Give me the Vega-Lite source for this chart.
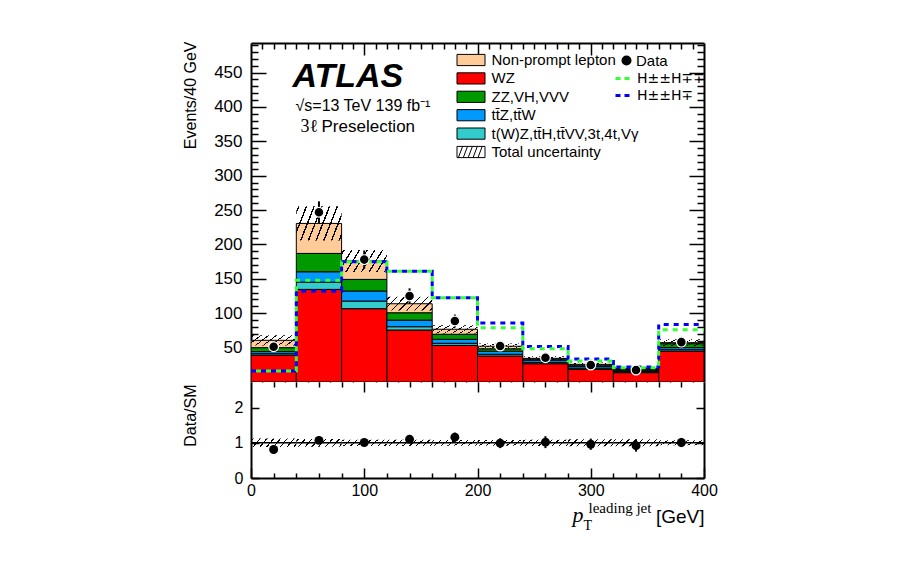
{
  "$schema": "https://vega.github.io/schema/vega-lite/v6.json",
  "background": "white",
  "padding": {"left": 181, "top": 36, "right": 5, "bottom": 5},
  "autosize": {"type": "pad"},
  "spacing": 0,
  "bounds": "flush",
  "datasets": {
    "stack": [
      {"process": "WZ", "rank": 1, "lo": 0, "hi": 40, "events": 39.2},
      {"process": "WZ", "rank": 1, "lo": 40, "hi": 80, "events": 134.7},
      {"process": "WZ", "rank": 1, "lo": 80, "hi": 120, "events": 106.6},
      {"process": "WZ", "rank": 1, "lo": 120, "hi": 160, "events": 75.6},
      {"process": "WZ", "rank": 1, "lo": 160, "hi": 200, "events": 53.3},
      {"process": "WZ", "rank": 1, "lo": 200, "hi": 240, "events": 37.8},
      {"process": "WZ", "rank": 1, "lo": 240, "hi": 280, "events": 26.6},
      {"process": "WZ", "rank": 1, "lo": 280, "hi": 320, "events": 18.4},
      {"process": "WZ", "rank": 1, "lo": 320, "hi": 360, "events": 13.6},
      {"process": "WZ", "rank": 1, "lo": 360, "hi": 400, "events": 45.0},
      {"process": "t(W)Z,tt̄H,tt̄VV,3t,4t,Vγ", "rank": 2, "lo": 0, "hi": 40, "events": 2.0},
      {"process": "t(W)Z,tt̄H,tt̄VV,3t,4t,Vγ", "rank": 2, "lo": 40, "hi": 80, "events": 10.6},
      {"process": "t(W)Z,tt̄H,tt̄VV,3t,4t,Vγ", "rank": 2, "lo": 80, "hi": 120, "events": 11.1},
      {"process": "t(W)Z,tt̄H,tt̄VV,3t,4t,Vγ", "rank": 2, "lo": 120, "hi": 160, "events": 4.8},
      {"process": "t(W)Z,tt̄H,tt̄VV,3t,4t,Vγ", "rank": 2, "lo": 160, "hi": 200, "events": 3.0},
      {"process": "t(W)Z,tt̄H,tt̄VV,3t,4t,Vγ", "rank": 2, "lo": 200, "hi": 240, "events": 2.5},
      {"process": "t(W)Z,tt̄H,tt̄VV,3t,4t,Vγ", "rank": 2, "lo": 240, "hi": 280, "events": 2.0},
      {"process": "t(W)Z,tt̄H,tt̄VV,3t,4t,Vγ", "rank": 2, "lo": 280, "hi": 320, "events": 1.8},
      {"process": "t(W)Z,tt̄H,tt̄VV,3t,4t,Vγ", "rank": 2, "lo": 320, "hi": 360, "events": 1.5},
      {"process": "t(W)Z,tt̄H,tt̄VV,3t,4t,Vγ", "rank": 2, "lo": 360, "hi": 400, "events": 2.0},
      {"process": "tt̄Z,tt̄W", "rank": 3, "lo": 0, "hi": 40, "events": 3.0},
      {"process": "tt̄Z,tt̄W", "rank": 3, "lo": 40, "hi": 80, "events": 15.0},
      {"process": "tt̄Z,tt̄W", "rank": 3, "lo": 80, "hi": 120, "events": 14.6},
      {"process": "tt̄Z,tt̄W", "rank": 3, "lo": 120, "hi": 160, "events": 9.6},
      {"process": "tt̄Z,tt̄W", "rank": 3, "lo": 160, "hi": 200, "events": 5.8},
      {"process": "tt̄Z,tt̄W", "rank": 3, "lo": 200, "hi": 240, "events": 4.5},
      {"process": "tt̄Z,tt̄W", "rank": 3, "lo": 240, "hi": 280, "events": 3.0},
      {"process": "tt̄Z,tt̄W", "rank": 3, "lo": 280, "hi": 320, "events": 2.5},
      {"process": "tt̄Z,tt̄W", "rank": 3, "lo": 320, "hi": 360, "events": 2.0},
      {"process": "tt̄Z,tt̄W", "rank": 3, "lo": 360, "hi": 400, "events": 3.0},
      {"process": "ZZ,VH,VVV", "rank": 4, "lo": 0, "hi": 40, "events": 5.7},
      {"process": "ZZ,VH,VVV", "rank": 4, "lo": 40, "hi": 80, "events": 26.7},
      {"process": "ZZ,VH,VVV", "rank": 4, "lo": 80, "hi": 120, "events": 16.9},
      {"process": "ZZ,VH,VVV", "rank": 4, "lo": 120, "hi": 160, "events": 10.7},
      {"process": "ZZ,VH,VVV", "rank": 4, "lo": 160, "hi": 200, "events": 7.3},
      {"process": "ZZ,VH,VVV", "rank": 4, "lo": 200, "hi": 240, "events": 3.5},
      {"process": "ZZ,VH,VVV", "rank": 4, "lo": 240, "hi": 280, "events": 1.6},
      {"process": "ZZ,VH,VVV", "rank": 4, "lo": 280, "hi": 320, "events": 1.8},
      {"process": "ZZ,VH,VVV", "rank": 4, "lo": 320, "hi": 360, "events": 1.3},
      {"process": "ZZ,VH,VVV", "rank": 4, "lo": 360, "hi": 400, "events": 5.7},
      {"process": "Non-prompt lepton", "rank": 5, "lo": 0, "hi": 40, "events": 10.7},
      {"process": "Non-prompt lepton", "rank": 5, "lo": 40, "hi": 80, "events": 43.6},
      {"process": "Non-prompt lepton", "rank": 5, "lo": 80, "hi": 120, "events": 26.8},
      {"process": "Non-prompt lepton", "rank": 5, "lo": 120, "hi": 160, "events": 13.1},
      {"process": "Non-prompt lepton", "rank": 5, "lo": 160, "hi": 200, "events": 7.3},
      {"process": "Non-prompt lepton", "rank": 5, "lo": 200, "hi": 240, "events": 3.7},
      {"process": "Non-prompt lepton", "rank": 5, "lo": 240, "hi": 280, "events": 1.2},
      {"process": "Non-prompt lepton", "rank": 5, "lo": 280, "hi": 320, "events": 1.2},
      {"process": "Non-prompt lepton", "rank": 5, "lo": 320, "hi": 360, "events": 1.0},
      {"process": "Non-prompt lepton", "rank": 5, "lo": 360, "hi": 400, "events": 1.5}
    ],
    "bins": [
      {"lo": 0, "hi": 40, "mid": 20, "unc_lo": 53.1, "unc_hi": 68.1, "data": 51.3, "data_lo": 44.1, "data_hi": 58.5, "ratio": 0.81, "ratio_lo": 0.69, "ratio_hi": 0.93, "band_lo": 0.88, "band_hi": 1.12},
      {"lo": 40, "hi": 80, "mid": 60, "unc_lo": 205.6, "unc_hi": 255.6, "data": 247, "data_lo": 231.3, "data_hi": 262.7, "ratio": 1.07, "ratio_lo": 0.99, "ratio_hi": 1.15, "band_lo": 0.89, "band_hi": 1.11},
      {"lo": 80, "hi": 120, "mid": 100, "unc_lo": 160, "unc_hi": 192, "data": 178, "data_lo": 164.7, "data_hi": 191.3, "ratio": 1.01, "ratio_lo": 0.93, "ratio_hi": 1.09, "band_lo": 0.91, "band_hi": 1.09},
      {"lo": 120, "hi": 160, "mid": 140, "unc_lo": 103.8, "unc_hi": 123.8, "data": 125, "data_lo": 113.8, "data_hi": 136.2, "ratio": 1.10, "ratio_lo": 1.0, "ratio_hi": 1.2, "band_lo": 0.91, "band_hi": 1.09},
      {"lo": 160, "hi": 200, "mid": 180, "unc_lo": 70.7, "unc_hi": 82.7, "data": 88.7, "data_lo": 79.3, "data_hi": 98.1, "ratio": 1.16, "ratio_lo": 1.03, "ratio_hi": 1.29, "band_lo": 0.92, "band_hi": 1.08},
      {"lo": 200, "hi": 240, "mid": 220, "unc_lo": 48, "unc_hi": 56, "data": 52.3, "data_lo": 45.1, "data_hi": 59.5, "ratio": 0.99, "ratio_lo": 0.85, "ratio_hi": 1.13, "band_lo": 0.92, "band_hi": 1.08},
      {"lo": 240, "hi": 280, "mid": 260, "unc_lo": 31.4, "unc_hi": 37.4, "data": 35.3, "data_lo": 29.4, "data_hi": 41.2, "ratio": 1.02, "ratio_lo": 0.85, "ratio_hi": 1.19, "band_lo": 0.91, "band_hi": 1.09},
      {"lo": 280, "hi": 320, "mid": 300, "unc_lo": 23.2, "unc_hi": 28.2, "data": 24.7, "data_lo": 19.7, "data_hi": 29.7, "ratio": 0.96, "ratio_lo": 0.8, "ratio_hi": 1.12, "band_lo": 0.9, "band_hi": 1.1},
      {"lo": 320, "hi": 360, "mid": 340, "unc_lo": 17.4, "unc_hi": 21.4, "data": 17.4, "data_lo": 13.2, "data_hi": 21.6, "ratio": 0.92, "ratio_lo": 0.75, "ratio_hi": 1.09, "band_lo": 0.9, "band_hi": 1.1},
      {"lo": 360, "hi": 400, "mid": 380, "unc_lo": 52.2, "unc_hi": 62.2, "data": 58, "data_lo": 50.4, "data_hi": 65.6, "ratio": 1.01, "ratio_lo": 0.88, "ratio_hi": 1.14, "band_lo": 0.93, "band_hi": 1.07}
    ],
    "signal": [
      {"edge": 0, "cc": 16, "c": 16},
      {"edge": 40, "cc": 148, "c": 132},
      {"edge": 80, "cc": 175, "c": 175},
      {"edge": 120, "cc": 161, "c": 161},
      {"edge": 160, "cc": 122.6, "c": 122.6},
      {"edge": 200, "cc": 79, "c": 85.8},
      {"edge": 240, "cc": 48.5, "c": 51.8},
      {"edge": 280, "cc": 30.5, "c": 33.4},
      {"edge": 320, "cc": 20.8, "c": 21.8},
      {"edge": 360, "cc": 76, "c": 83.8},
      {"edge": 400, "cc": 76, "c": 83.8}
    ]
  },
  "vconcat": [
    {
      "width": 453,
      "height": 339,
      "resolve": {"axis": {"x": "independent", "y": "independent"}},
      "layer": [
        {
          "data": {"name": "stack"},
          "transform": [
            {"stack": "events", "groupby": ["lo"], "sort": [{"field": "rank", "order": "ascending"}], "as": ["y0", "y1"]}
          ],
          "mark": {"type": "rect", "stroke": "black", "strokeWidth": 1, "clip": true},
          "encoding": {
            "x": {"field": "lo", "type": "quantitative",
              "scale": {"domain": [0, 400], "nice": false, "zero": false},
              "axis": {"orient": "bottom", "values": [10,20,30,40,50,60,70,80,90,100,110,120,130,140,150,160,170,180,190,200,210,220,230,240,250,260,270,280,290,300,310,320,330,340,350,360,370,380,390],
                "labels": false, "domain": false, "title": null,
                "tickSize": {"condition": {"test": "datum.value % 100 === 0", "value": -12}, "value": -6}}},
            "x2": {"field": "hi"},
            "y": {"field": "y0", "type": "quantitative",
              "scale": {"domain": [0, 493], "nice": false, "zero": false},
              "axis": {"orient": "left", "values": [10,20,30,40,50,60,70,80,90,100,110,120,130,140,150,160,170,180,190,200,210,220,230,240,250,260,270,280,290,300,310,320,330,340,350,360,370,380,390,400,410,420,430,440,450,460,470,480,490],
                "tickSize": {"condition": {"test": "datum.value % 50 === 0", "value": -15}, "value": -7},
                "labelExpr": "datum.value % 50 === 0 ? datum.label : ''",
                "labelFontSize": 17, "labelPadding": 24,
                "title": "Events/40 GeV", "titleFontSize": 16, "titleX": -56, "titleY": -2,
                "titleAlign": "right", "titleAngle": -90, "titleBaseline": "alphabetic"}},
            "y2": {"field": "y1"},
            "fill": {"field": "process", "type": "nominal",
              "scale": {"domain": ["Non-prompt lepton", "WZ", "ZZ,VH,VVV", "tt̄Z,tt̄W", "t(W)Z,tt̄H,tt̄VV,3t,4t,Vγ", "Total uncertainty"],
                        "range": ["#ffcc99", "#ff0000", "#009900", "#0099ff", "#33cccc", "#ffffff"]},
              "legend": {"orient": "none", "legendX": 212.5, "legendY": 9.5, "title": null, "padding": 0,
                "symbolType": "M-2,-0.8H2V0.8H-2Z", "symbolSize": 196, "symbolStrokeColor": "black", "symbolStrokeWidth": 1, "symbolOpacity": 1,
                "labelFontSize": 15, "labelOffset": 13, "rowPadding": 1.4, "labelLimit": 400, "labelColor": "black",
                "encode": {"symbols": {"update": {"shape": {"signal": "datum.value === 'Total uncertainty' ? 'M-2,-0.8H2V0.8H-2Z M-1.8,0.8L-1.2,-0.8 M-1.1,0.8L-0.5,-0.8 M-0.4,0.8L0.2,-0.8 M0.3,0.8L0.9,-0.8 M1,0.8L1.6,-0.8' : 'M-2,-0.8H2V0.8H-2Z'"}}}}}}
          }
        },
        {
          "data": {"name": "bins"},
          "mark": {"type": "rect",
            "fill": {"gradient": "linear", "x1": 0, "y1": 0, "x2": 1.2, "y2": 0.36,
              "stops": [
                {"offset": 0, "color": "rgba(0,0,0,0)"},
                {"offset": 0.03, "color": "rgba(0,0,0,0)"}, {"offset": 0.03, "color": "black"}, {"offset": 0.055, "color": "black"}, {"offset": 0.055, "color": "rgba(0,0,0,0)"},
                {"offset": 0.16, "color": "rgba(0,0,0,0)"}, {"offset": 0.16, "color": "black"}, {"offset": 0.185, "color": "black"}, {"offset": 0.185, "color": "rgba(0,0,0,0)"},
                {"offset": 0.29, "color": "rgba(0,0,0,0)"}, {"offset": 0.29, "color": "black"}, {"offset": 0.315, "color": "black"}, {"offset": 0.315, "color": "rgba(0,0,0,0)"},
                {"offset": 0.42, "color": "rgba(0,0,0,0)"}, {"offset": 0.42, "color": "black"}, {"offset": 0.445, "color": "black"}, {"offset": 0.445, "color": "rgba(0,0,0,0)"},
                {"offset": 0.55, "color": "rgba(0,0,0,0)"}, {"offset": 0.55, "color": "black"}, {"offset": 0.575, "color": "black"}, {"offset": 0.575, "color": "rgba(0,0,0,0)"},
                {"offset": 0.68, "color": "rgba(0,0,0,0)"}, {"offset": 0.68, "color": "black"}, {"offset": 0.705, "color": "black"}, {"offset": 0.705, "color": "rgba(0,0,0,0)"},
                {"offset": 0.81, "color": "rgba(0,0,0,0)"}, {"offset": 0.81, "color": "black"}, {"offset": 0.835, "color": "black"}, {"offset": 0.835, "color": "rgba(0,0,0,0)"},
                {"offset": 0.94, "color": "rgba(0,0,0,0)"}, {"offset": 0.94, "color": "black"}, {"offset": 0.965, "color": "black"}, {"offset": 0.965, "color": "rgba(0,0,0,0)"},
                {"offset": 1, "color": "rgba(0,0,0,0)"}
              ]}},
          "encoding": {
            "x": {"field": "lo", "type": "quantitative",
              "axis": {"orient": "top", "values": [10,20,30,40,50,60,70,80,90,100,110,120,130,140,150,160,170,180,190,200,210,220,230,240,250,260,270,280,290,300,310,320,330,340,350,360,370,380,390],
                "labels": false, "title": null,
                "tickSize": {"condition": {"test": "datum.value % 100 === 0", "value": -12}, "value": -6}}},
            "x2": {"field": "hi"},
            "y": {"field": "unc_lo", "type": "quantitative",
              "axis": {"orient": "right", "values": [10,20,30,40,50,60,70,80,90,100,110,120,130,140,150,160,170,180,190,200,210,220,230,240,250,260,270,280,290,300,310,320,330,340,350,360,370,380,390,400,410,420,430,440,450,460,470,480,490],
                "labels": false, "title": null,
                "tickSize": {"condition": {"test": "datum.value % 50 === 0", "value": -15}, "value": -7}}},
            "y2": {"field": "unc_hi"}
          }
        },
        {
          "data": {"name": "signal"},
          "mark": {"type": "line", "interpolate": "step-after", "strokeWidth": 3, "strokeDash": [5, 5]},
          "encoding": {
            "x": {"field": "edge", "type": "quantitative",
              "axis": {"orient": "top", "labels": false, "ticks": false, "domain": false,
                "title": "ATLAS", "titleFontSize": 34, "titleFontWeight": "bold", "titleFontStyle": "italic",
                "titleX": 41, "titleY": 43, "titleAlign": "left", "titleBaseline": "alphabetic", "titleAngle": 0}},
            "y": {"field": "c", "type": "quantitative", "axis": null},
            "stroke": {"datum": "H±±H∓", "type": "nominal",
              "scale": {"domain": ["H±±H∓∓", "H±±H∓"], "range": ["#33ff33", "#0000ff"]},
              "legend": {"orient": "none", "legendX": 363, "legendY": 26, "title": null, "padding": 0,
                "symbolType": "stroke", "symbolSize": 256, "symbolStrokeWidth": 3, "symbolDash": [5, 4],
                "labelFont": "DejaVu Sans", "labelFontSize": 14, "labelOffset": 4, "rowPadding": 0, "labelColor": "black"}}
          }
        },
        {
          "data": {"name": "signal"},
          "mark": {"type": "line", "interpolate": "step-after", "strokeWidth": 3, "strokeDash": [5, 5], "strokeDashOffset": 5},
          "encoding": {
            "x": {"field": "edge", "type": "quantitative",
              "axis": {"orient": "top", "labels": false, "ticks": false, "domain": false,
                "title": "√s=13 TeV 139 fb⁻¹", "titleFontSize": 16,
                "titleX": 44, "titleY": 67, "titleAlign": "left", "titleBaseline": "alphabetic", "titleAngle": 0}},
            "y": {"field": "cc", "type": "quantitative", "axis": null},
            "stroke": {"datum": "H±±H∓∓", "type": "nominal"}
          }
        },
        {
          "data": {"name": "bins"},
          "mark": {"type": "rule", "strokeWidth": 2, "color": "black"},
          "encoding": {
            "x": {"field": "mid", "type": "quantitative",
              "axis": {"orient": "top", "labels": false, "ticks": false, "domain": false,
                "title": "3ℓ", "titleFont": "Liberation Serif", "titleFontSize": 18,
                "titleX": 49, "titleY": 88, "titleAlign": "left", "titleBaseline": "alphabetic", "titleAngle": 0}},
            "y": {"field": "data_lo", "type": "quantitative", "axis": null},
            "y2": {"field": "data_hi"}
          }
        },
        {
          "data": {"name": "bins"},
          "mark": {"type": "point", "filled": true, "size": 95, "color": "black", "stroke": "white", "strokeWidth": 1.2, "opacity": 1},
          "encoding": {
            "x": {"field": "mid", "type": "quantitative",
              "axis": {"orient": "top", "labels": false, "ticks": false, "domain": false,
                "title": "Preselection", "titleFontSize": 17,
                "titleX": 70, "titleY": 88, "titleAlign": "left", "titleBaseline": "alphabetic", "titleAngle": 0}},
            "y": {"field": "data", "type": "quantitative", "axis": null},
            "shape": {"datum": "Data", "type": "nominal", "scale": {"domain": ["Data"], "range": ["circle"]},
              "legend": {"orient": "none", "legendX": 368, "legendY": 10, "title": null, "padding": 0,
                "symbolFillColor": "black", "symbolStrokeColor": "black", "symbolSize": 100,
                "labelFontSize": 15, "labelOffset": 2, "labelColor": "black"}}
          }
        }
      ]
    },
    {
      "width": 453,
      "height": 96,
      "resolve": {"axis": {"x": "independent", "y": "independent"}},
      "layer": [
        {
          "data": {"name": "bins"},
          "mark": {"type": "rect",
            "fill": {"gradient": "linear", "x1": 0, "y1": 0, "x2": 1.128, "y2": 0.175,
              "stops": [
                {"offset": 0, "color": "rgba(0,0,0,0)"},
                {"offset": 0.03, "color": "rgba(0,0,0,0)"}, {"offset": 0.03, "color": "black"}, {"offset": 0.055, "color": "black"}, {"offset": 0.055, "color": "rgba(0,0,0,0)"},
                {"offset": 0.16, "color": "rgba(0,0,0,0)"}, {"offset": 0.16, "color": "black"}, {"offset": 0.185, "color": "black"}, {"offset": 0.185, "color": "rgba(0,0,0,0)"},
                {"offset": 0.29, "color": "rgba(0,0,0,0)"}, {"offset": 0.29, "color": "black"}, {"offset": 0.315, "color": "black"}, {"offset": 0.315, "color": "rgba(0,0,0,0)"},
                {"offset": 0.42, "color": "rgba(0,0,0,0)"}, {"offset": 0.42, "color": "black"}, {"offset": 0.445, "color": "black"}, {"offset": 0.445, "color": "rgba(0,0,0,0)"},
                {"offset": 0.55, "color": "rgba(0,0,0,0)"}, {"offset": 0.55, "color": "black"}, {"offset": 0.575, "color": "black"}, {"offset": 0.575, "color": "rgba(0,0,0,0)"},
                {"offset": 0.68, "color": "rgba(0,0,0,0)"}, {"offset": 0.68, "color": "black"}, {"offset": 0.705, "color": "black"}, {"offset": 0.705, "color": "rgba(0,0,0,0)"},
                {"offset": 0.81, "color": "rgba(0,0,0,0)"}, {"offset": 0.81, "color": "black"}, {"offset": 0.835, "color": "black"}, {"offset": 0.835, "color": "rgba(0,0,0,0)"},
                {"offset": 0.94, "color": "rgba(0,0,0,0)"}, {"offset": 0.94, "color": "black"}, {"offset": 0.965, "color": "black"}, {"offset": 0.965, "color": "rgba(0,0,0,0)"},
                {"offset": 1, "color": "rgba(0,0,0,0)"}
              ]}},
          "encoding": {
            "x": {"field": "lo", "type": "quantitative",
              "scale": {"domain": [0, 400], "nice": false, "zero": false},
              "axis": {"orient": "bottom", "values": [0,20,40,60,80,100,120,140,160,180,200,220,240,260,280,300,320,340,360,380,400],
                "tickSize": {"condition": {"test": "datum.value % 100 === 0", "value": -10}, "value": -5},
                "labelExpr": "datum.value % 100 === 0 ? datum.label : ''",
                "labelFontSize": 16, "labelPadding": 14,
                "title": "[GeV]", "titleFontSize": 19, "titleX": 453, "titleY": 44,
                "titleAlign": "right", "titleBaseline": "alphabetic", "titleAngle": 0}},
            "x2": {"field": "hi"},
            "y": {"field": "band_lo", "type": "quantitative",
              "scale": {"domain": [0, 2.73], "nice": false, "zero": false},
              "axis": {"orient": "left", "values": [0, 1, 2], "tickSize": -8,
                "labelFontSize": 16, "labelPadding": 16,
                "title": "Data/SM", "titleFontSize": 16, "titleX": -56, "titleY": 2,
                "titleAlign": "right", "titleAngle": -90, "titleBaseline": "alphabetic"}},
            "y2": {"field": "band_hi"}
          }
        },
        {
          "data": {"name": "bins"},
          "mark": {"type": "rule", "strokeWidth": 1.5, "color": "black"},
          "encoding": {
            "x": {"field": "lo", "type": "quantitative",
              "axis": {"orient": "top", "values": [20,40,60,80,100,120,140,160,180,200,220,240,260,280,300,320,340,360,380],
                "labels": false, "domain": false,
                "tickSize": {"condition": {"test": "datum.value % 100 === 0", "value": -10}, "value": -5},
                "title": "p", "titleFont": "Liberation Serif", "titleFontStyle": "italic", "titleFontSize": 22,
                "titleX": 321, "titleY": 139, "titleAlign": "left", "titleBaseline": "alphabetic", "titleAngle": 0}},
            "x2": {"field": "hi"},
            "y": {"datum": 1, "type": "quantitative",
              "axis": {"orient": "right", "values": [0, 1, 2], "tickSize": -8, "labels": false, "title": null}}
          }
        },
        {
          "data": {"name": "bins"},
          "mark": {"type": "rule", "strokeWidth": 2, "color": "black"},
          "encoding": {
            "x": {"field": "mid", "type": "quantitative",
              "axis": {"orient": "bottom", "labels": false, "ticks": false, "domain": false,
                "title": "T", "titleFont": "Liberation Serif", "titleFontSize": 14,
                "titleX": 332, "titleY": 51, "titleAlign": "left", "titleBaseline": "alphabetic", "titleAngle": 0}},
            "y": {"field": "ratio_lo", "type": "quantitative", "axis": null},
            "y2": {"field": "ratio_hi"}
          }
        },
        {
          "data": {"name": "bins"},
          "mark": {"type": "point", "filled": true, "size": 80, "color": "black", "shape": "circle", "opacity": 1},
          "encoding": {
            "x": {"field": "mid", "type": "quantitative",
              "axis": {"orient": "bottom", "labels": false, "ticks": false, "domain": false,
                "title": "leading jet", "titleFont": "Liberation Serif", "titleFontSize": 15,
                "titleX": 337, "titleY": 34, "titleAlign": "left", "titleBaseline": "alphabetic", "titleAngle": 0}},
            "y": {"field": "ratio", "type": "quantitative", "axis": null}
          }
        }
      ]
    }
  ],
  "config": {
    "font": "Liberation Sans",
    "view": {"stroke": null},
    "axis": {"grid": false, "labelColor": "black", "tickColor": "black", "domainColor": "black", "titleColor": "black",
      "labelFont": "Liberation Sans", "titleFont": "Liberation Sans", "titleFontWeight": "normal",
      "labelOverlap": false, "labelFlush": false, "tickWidth": 1.5, "domainWidth": 2, "zindex": 1},
    "legend": {"labelFont": "Liberation Sans"}
  }
}
